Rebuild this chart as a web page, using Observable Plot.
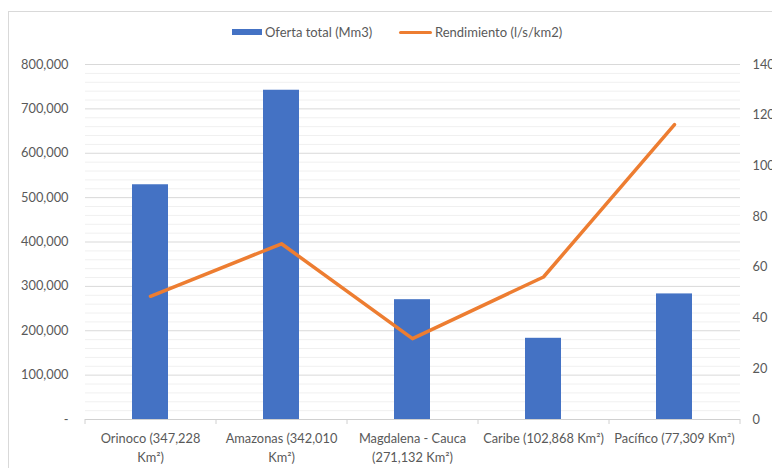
<!DOCTYPE html>
<html>
<head>
<meta charset="utf-8">
<script src="https://cdn.jsdelivr.net/npm/d3@7"></script>
<script src="https://cdn.jsdelivr.net/npm/@observablehq/plot@0.6"></script>
<style>
  html, body { margin: 0; padding: 0; background: #fff; overflow: hidden; }
  #wrap { position: relative; width: 772px; height: 468px; font-family: Lato, "Open Sans", sans-serif; }
  #frame { position: absolute; left: 8px; top: 11px; width: 800px; height: 500px; border-left: 1px solid #d9d9d9; border-top: 1px solid #d9d9d9; }
  #chart { position: absolute; left: 0; top: 0; }
  .leg { position: absolute; top: 23px; font-size: 13px; color: #595959; white-space: nowrap; line-height: 18px; }
  .sw { position: absolute; }
</style>
</head>
<body>
<div id="wrap">
  <div id="frame"></div>
  <div id="chart"></div>
  <div class="sw" style="left:232px; top:29px; width:30px; height:6px; background:#4472C4;"></div>
  <div class="leg" style="left:265px;">Oferta total (Mm3)</div>
  <div class="sw" style="left:399px; top:30.5px; width:33px; height:3px; background:#ED7D31; border-radius:1.5px;"></div>
  <div class="leg" style="left:435px;">Rendimiento (l/s/km2)</div>
</div>
<script>
// Data
const categories = [
  "Orinoco (347,228\nKm²)",
  "Amazonas (342,010\nKm²)",
  "Magdalena - Cauca\n(271,132 Km²)",
  "Caribe (102,868 Km²)",
  "Pacífico (77,309 Km²)"
];
const ofertaTotal = [529000, 742000, 270000, 183000, 283000];
const rendimiento = [48.6, 69.3, 31.9, 56.2, 116.3];
const leftTicks = [0, 100000, 200000, 300000, 400000, 500000, 600000, 700000, 800000];
const rightTicks = [0, 20, 40, 60, 80, 100, 120, 140];

const leftMax = 800000, rightMax = 140;
const k = leftMax / rightMax;
const rows = categories.map((c, i) => ({cat: c, oferta: ofertaTotal[i], rend: rendimiento[i]}));
const minorTicks = d3.range(0, leftMax + 1, 20000).filter(v => v % 100000 !== 0);
const fmt = d3.format(",");
const lastCat = categories[categories.length - 1];

const chart = Plot.plot({
  width: 772,
  height: 468,
  marginLeft: 85,
  marginRight: 32,
  marginTop: 64,
  marginBottom: 49,
  style: {fontFamily: "Lato, 'Open Sans', sans-serif", fontSize: "12.5px", color: "#595959", background: "transparent"},
  x: {domain: categories, paddingInner: 0.725, paddingOuter: 0.3625, axis: null},
  y: {domain: [0, leftMax], axis: null},
  marks: [
    Plot.ruleY(minorTicks, {stroke: "#f0f0f0", strokeWidth: 1}),
    Plot.ruleY(leftTicks.filter(v => v > 0), {stroke: "#d9d9d9", strokeWidth: 1}),
    Plot.barY(rows, {x: "cat", y: "oferta", fill: "#4472C4"}),
    Plot.ruleY([0], {stroke: "#d0d0d0", strokeWidth: 1}),
    Plot.axisX({label: null, tickSize: 0, tickPadding: 11, lineHeight: 1.42, fill: "#595959", fontSize: 12.8}),
    Plot.axisX(categories, {label: null, tickSize: 5, dx: -65.5, tickFormat: () => "", stroke: "#d0d0d0"}),
    Plot.axisX([lastCat], {label: null, tickSize: 5, dx: 65.5, tickFormat: () => "", stroke: "#d0d0d0"}),
    Plot.axisY(leftTicks, {label: null, anchor: "left", tickSize: 0, tickPadding: 17, fill: "#595959", fontSize: 12.8,
      tickFormat: d => d === 0 ? "-" : fmt(d)}),
    Plot.axisY(rightTicks.map(t => t * k), {label: null, anchor: "right", tickSize: 0, tickPadding: 12, fill: "#595959", fontSize: 12.8,
      tickFormat: d => String(Math.round(d / k))}),
    Plot.line(rows, {x: "cat", y: d => d.rend * k, stroke: "#ED7D31", strokeWidth: 3.5, strokeLinejoin: "round", strokeLinecap: "round"})
  ]
});
document.getElementById("chart").appendChild(chart);
</script>
</body>
</html>
